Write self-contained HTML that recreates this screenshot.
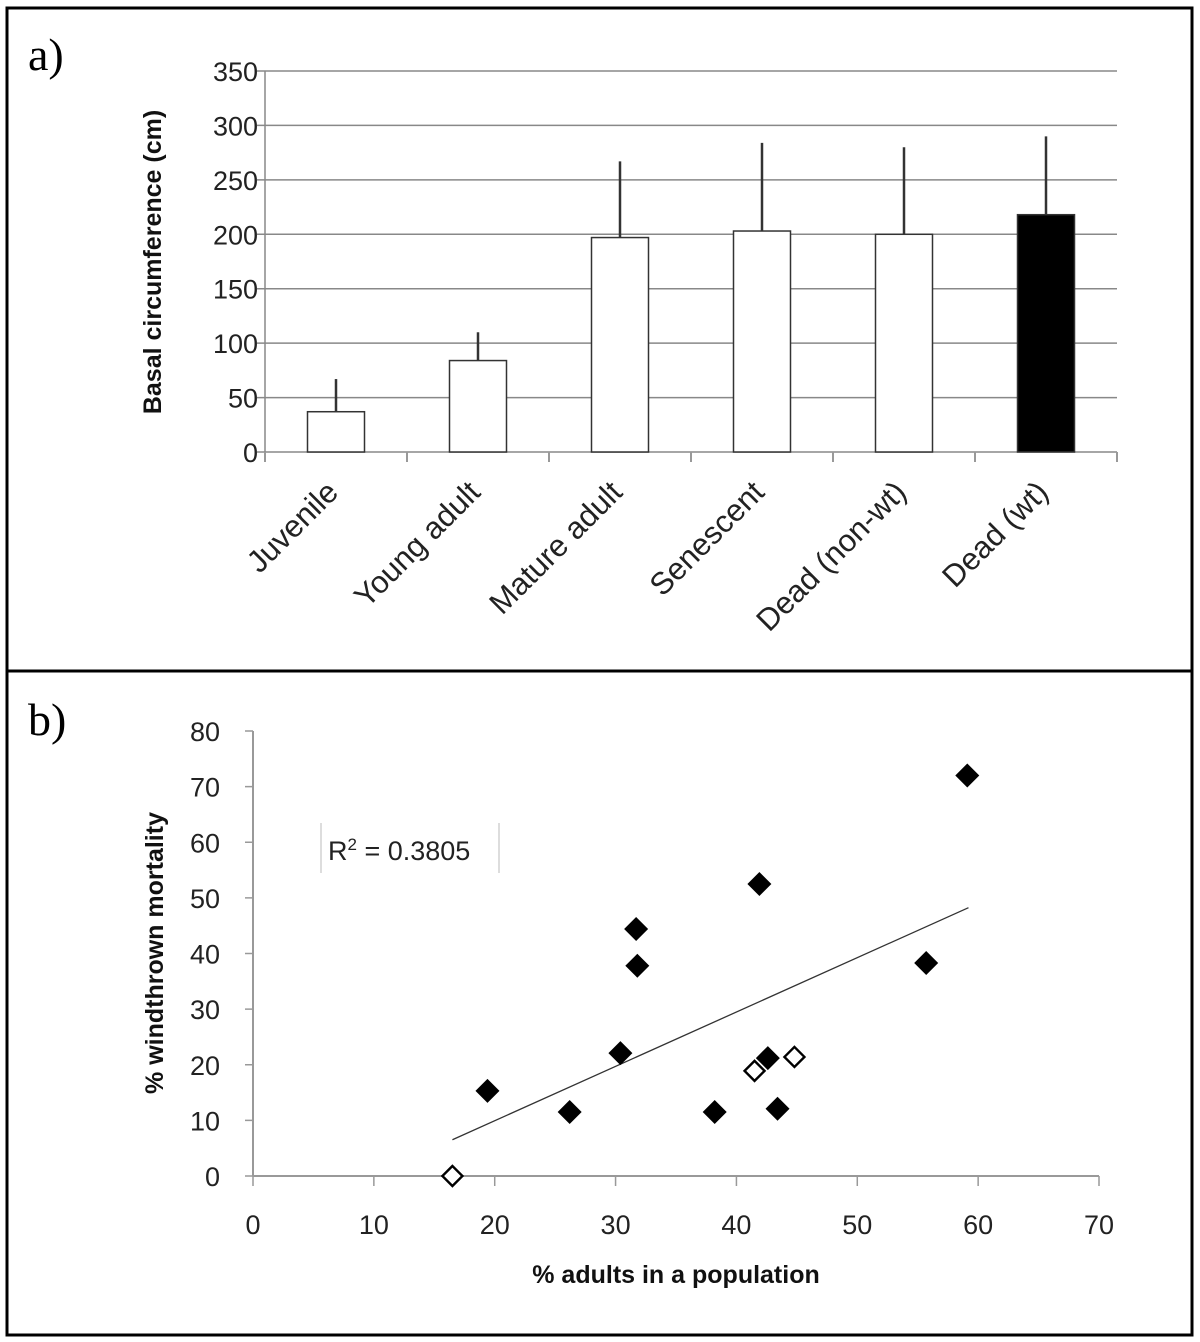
<!DOCTYPE html>
<html><head><meta charset="utf-8"><style>
html,body{margin:0;padding:0;background:#fff}
svg{display:block}
text{font-family:"Liberation Sans","DejaVu Sans",sans-serif}
</style></head><body>
<svg id="fig" width="1200" height="1342" viewBox="0 0 1200 1342" xmlns="http://www.w3.org/2000/svg">
<rect x="7" y="8" width="1185" height="1327" fill="none" stroke="#000" stroke-width="3"/>
<line x1="7" y1="671" x2="1192" y2="671" stroke="#000" stroke-width="3"/>
<text x="28" y="70" font-size="46" style="font-family:'Liberation Serif',serif">a)</text>
<text x="28" y="735" font-size="46" style="font-family:'Liberation Serif',serif">b)</text>
<g id="pa"></g>
<g id="pb"></g>
</svg>
<script>
const categories = ["Juvenile","Young adult","Mature adult","Senescent","Dead (non-wt)","Dead (wt)"];
const barValues = [37, 84, 197, 203, 200, 218];
const barErrTop = [67, 110, 267, 284, 280, 290];
const barFills = ["white","white","white","white","white","black"];
const aTicks = [0,50,100,150,200,250,300,350];

const xFilled = [19.4, 26.2, 30.4, 31.7, 31.8, 38.2, 41.9, 42.6, 43.4, 55.7, 59.1];
const yFilled = [15.3, 11.5, 22.1, 44.4, 37.8, 11.5, 52.5, 21.2, 12.1, 38.3, 72.0];
const xOpen = [16.5, 41.5, 44.8];
const yOpen = [0, 18.9, 21.4];
const trendX = [16.5, 59.2];
const trendCoef = [0.977, -9.6];
const bXTicks = [0,10,20,30,40,50,60,70];
const bYTicks = [0,10,20,30,40,50,60,70,80];

const NS = "http://www.w3.org/2000/svg";
function mk(tag, attrs, parent, txt){
  const e = document.createElementNS(NS, tag);
  for (const k in attrs) e.setAttribute(k, attrs[k]);
  if (txt !== undefined) e.textContent = txt;
  parent.appendChild(e); return e;
}

// Panel a
const pa = document.getElementById('pa');
const aX0 = 265, aX1 = 1117, aY0 = 452, aY1 = 71, aMax = 350;
const ay = v => aY0 - (v / aMax) * (aY0 - aY1);
const bandW = (aX1 - aX0) / categories.length;
const ax = i => aX0 + bandW * (i + 0.5);
aTicks.forEach(t => {
  const g = mk('line', {x1: aX0 - 8, x2: aX1, y1: ay(t), y2: ay(t), stroke: '#888', 'stroke-width': 1.5}, pa);
  
  
  const l = mk('text', {x: 258, y: ay(t) + 10, 'text-anchor': 'end', 'font-size': 27, fill: '#222'}, pa, t);
  
  
});
const axA = mk('line', {x1: aX0, x2: aX0, y1: aY1, y2: aY0 + 10, stroke: '#888', 'stroke-width': 1.5}, pa);


for (let i = 0; i <= categories.length; i++) {
  const tk = mk('line', {x1: aX0 + bandW * i, x2: aX0 + bandW * i, y1: aY0, y2: aY0 + 10, stroke: '#999', 'stroke-width': 2}, pa);
  
  
}
const bw = 57;
categories.forEach((c, i) => {
  const cx = ax(i);
  const er = mk('line', {x1: cx, x2: cx, y1: ay(barErrTop[i]), y2: ay(barValues[i]), stroke: '#333', 'stroke-width': 2.5}, pa);
  
  
  const r = mk('rect', {x: cx - bw / 2, y: ay(barValues[i]), width: bw, height: aY0 - ay(barValues[i]), fill: barFills[i], stroke: '#333', 'stroke-width': 1.5}, pa);
  
  
  const tx = cx + 4, tyy = 494;
  const lb = mk('text', {x: tx, y: tyy, 'text-anchor': 'end', 'font-size': 31, fill: '#222', transform: `rotate(-45 ${tx} ${tyy})`}, pa, c);
  
  
});
const yta = mk('text', {x: 0, y: 0, 'text-anchor': 'middle', 'font-size': 25, 'font-weight': 'bold', fill: '#111', transform: 'translate(161 262) rotate(-90)'}, pa, 'Basal circumference (cm)');



// Panel b
const pb = document.getElementById('pb');
const bX0 = 253, bX1 = 1099, bY0 = 1176, bY1 = 731;
const bx = v => bX0 + (v / 70) * (bX1 - bX0);
const by = v => bY0 - (v / 80) * (bY0 - bY1);
const axY = mk('line', {x1: bX0, x2: bX0, y1: bY1, y2: bY0, stroke: '#999', 'stroke-width': 2}, pb);


const axX = mk('line', {x1: bX0, x2: bX1, y1: bY0, y2: bY0, stroke: '#999', 'stroke-width': 2}, pb);


bYTicks.forEach(t => {
  const tk = mk('line', {x1: bX0 - 8, x2: bX0, y1: by(t), y2: by(t), stroke: '#999', 'stroke-width': 1.5}, pb);
  
  
  const l = mk('text', {x: 220, y: by(t) + 10, 'text-anchor': 'end', 'font-size': 27, fill: '#222'}, pb, t);
  
  
});
bXTicks.forEach(t => {
  const tk = mk('line', {x1: bx(t), x2: bx(t), y1: bY0, y2: bY0 + 10, stroke: '#999', 'stroke-width': 1.5}, pb);
  
  
  const l = mk('text', {x: bx(t), y: 1234, 'text-anchor': 'middle', 'font-size': 27, fill: '#222'}, pb, t);
  
  
});
const tl = mk('line', {x1: bx(trendX[0]), y1: by(trendCoef[0] * trendX[0] + trendCoef[1]), x2: bx(trendX[1]), y2: by(trendCoef[0] * trendX[1] + trendCoef[1]), stroke: '#333', 'stroke-width': 1.3}, pb);


const dia = (x, y, s) => `M${x} ${y - s} L${x + s} ${y} L${x} ${y + s} L${x - s} ${y} Z`;
xFilled.forEach((v, i) => {
  const p = mk('path', {d: dia(bx(v), by(yFilled[i]), 12), fill: '#000'}, pb);
  
  
});
xOpen.forEach((v, i) => {
  const p = mk('path', {d: dia(bx(v), by(yOpen[i]), 10), fill: '#fff', stroke: '#000', 'stroke-width': 2.4}, pb);
  
  
});
const rb1 = mk('line', {x1: 321, x2: 321, y1: 823, y2: 873, stroke: '#bbb', 'stroke-width': 1}, pb);


const rb2 = mk('line', {x1: 499, x2: 499, y1: 823, y2: 873, stroke: '#bbb', 'stroke-width': 1}, pb);


const r2 = mk('text', {x: 328, y: 860, 'font-size': 27, fill: '#222'}, pb);


r2.innerHTML = 'R<tspan dy="-10" font-size="17">2</tspan><tspan dy="10"> = 0.3805</tspan>';
const xt = mk('text', {x: 676, y: 1283, 'text-anchor': 'middle', 'font-size': 25, 'font-weight': 'bold', fill: '#111'}, pb, '% adults in a population');


const yt = mk('text', {x: 0, y: 0, 'text-anchor': 'middle', 'font-size': 25, 'font-weight': 'bold', fill: '#111', transform: 'translate(163 953) rotate(-90)'}, pb, '% windthrown mortality');


</script>
</body></html>
